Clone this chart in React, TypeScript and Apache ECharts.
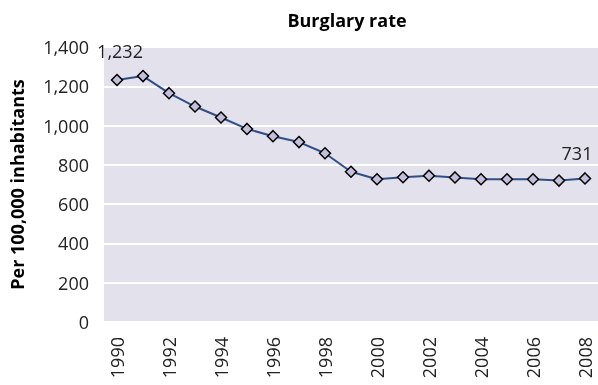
import React, { useEffect, useRef } from "react";
import * as echarts from "echarts";

const years = ["1990","1991","1992","1993","1994","1995","1996","1997","1998","1999","2000","2001","2002","2003","2004","2005","2006","2007","2008"];
const burglary = [1232, 1252, 1165, 1097, 1041, 983, 946, 916, 859, 765, 727, 737, 745, 736, 727, 727, 727, 720, 731];
const labelled = [0, 18];

export default function App() {
  const ref = useRef<HTMLDivElement>(null);
  useEffect(() => {
    if (!ref.current) return;
    const chart = echarts.init(ref.current, null, { renderer: "svg" });
    const font = "'Open Sans', 'Noto Sans', sans-serif";
    chart.setOption({
      animation: false,
      textStyle: { fontFamily: font },
      title: {
        text: "Burglary rate",
        left: 342,
        textAlign: "center",
        top: 6,
        textStyle: { fontFamily: font, fontSize: 18, fontWeight: "bold", color: "#000" },
      },
      grid: {
        left: 101, right: 0, top: 47, bottom: 63,
        show: true, backgroundColor: "#e3e1ec", borderWidth: 0,
      },
      xAxis: {
        type: "category",
        data: years,
        boundaryGap: true,
        axisLine: { show: false },
        axisTick: { show: false },
        axisLabel: { interval: 1, rotate: 90, fontSize: 18, color: "#222", fontFamily: font, margin: 15 },
      },
      yAxis: {
        type: "value",
        min: 0, max: 1400, interval: 200,
        name: "Per 100,000 inhabitants",
        nameLocation: "middle",
        nameGap: 78,
        nameTextStyle: { fontSize: 18, fontWeight: "bold", color: "#000", fontFamily: font },
        axisLine: { show: false },
        axisTick: { show: false },
        splitLine: { lineStyle: { color: "#ffffff", width: 2 } },
        axisLabel: {
          fontSize: 18, color: "#222", fontFamily: font, margin: 15,
          formatter: (v: number) => v.toLocaleString("en-US"),
        },
      },
      series: [{
        type: "line",
        data: burglary.map((v, i) => labelled.includes(i) ? {
          value: v,
          label: {
            show: true, position: "top", distance: i === 0 ? 14 : 10, fontSize: 18, color: "#222", fontFamily: font,
            offset: i === 0 ? [3, 0] : [-8, 0],
            formatter: (p: any) => Number(p.value).toLocaleString("en-US"),
          },
        } : v),
        symbol: "diamond",
        symbolSize: 11,
        lineStyle: { color: "#2f4f86", width: 2 },
        itemStyle: { color: "#c3bfdb", borderColor: "#000", borderWidth: 1.5 },
      }],
    });
    return () => chart.dispose();
  }, []);
  return <div ref={ref} style={{ position: "fixed", left: 0, top: 0, width: 598, height: 385 }} />;
}
